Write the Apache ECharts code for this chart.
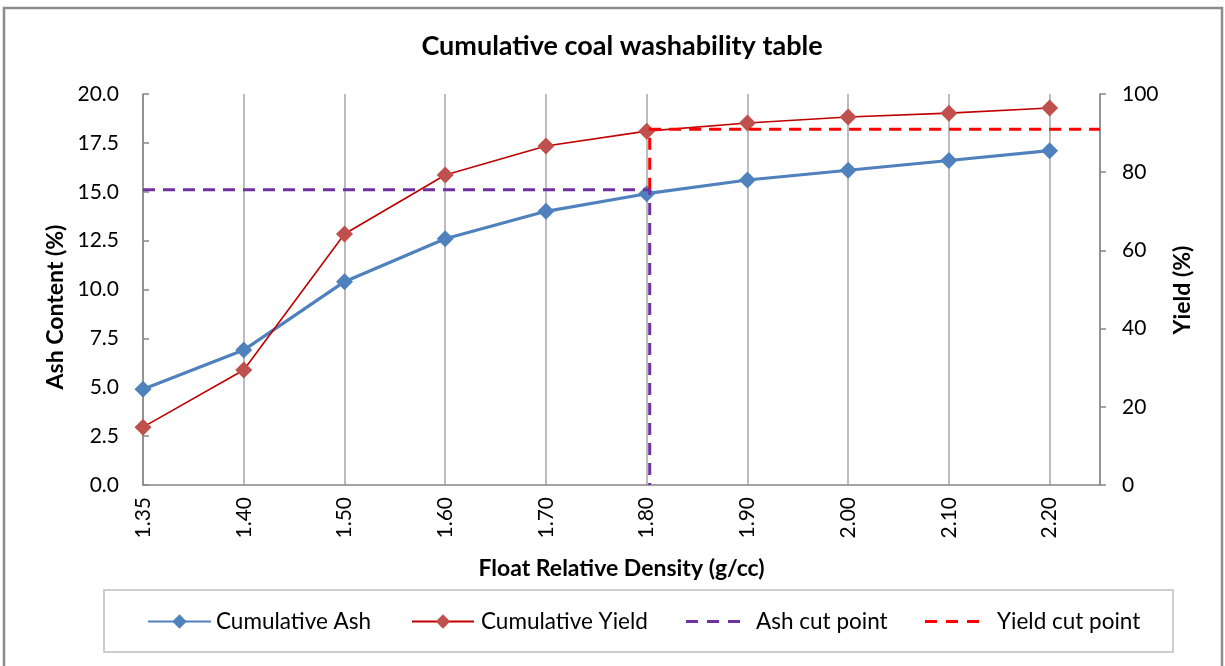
<!DOCTYPE html>
<html>
<head>
<meta charset="utf-8">
<title>Cumulative coal washability table</title>
<script src="https://cdn.jsdelivr.net/npm/echarts@6/dist/echarts.min.js"></script>
<style>
  html, body { margin: 0; padding: 0; background: #ffffff; }
  #chart { width: 1225px; height: 666px; }
</style>
</head>
<body>
<div id="chart"></div>
<script>
// Float relative density fractions (g/cc)
const densities = ['1.35', '1.40', '1.50', '1.60', '1.70', '1.80', '1.90', '2.00', '2.10', '2.20'];
// Cumulative ash of the floats (%)
const cumulativeAsh = [4.9, 6.9, 10.4, 12.6, 14.0, 14.9, 15.6, 16.1, 16.6, 17.1];
// Cumulative yield of the floats (%)
const cumulativeYield = [14.8, 29.4, 64.2, 79.3, 86.7, 90.5, 92.6, 94.1, 95.1, 96.4];
// Cut point: target ash, resulting yield and its position along the density axis
const ashCut = 15.1;
const yieldCut = 91.0;
const cutPosition = 5.03;
// Axis ranges
const ashMax = 20, ashStep = 2.5;
const yieldMax = 100, yieldStep = 20;
const densityEnd = 9.5;

const FONT = 'Lato, "Open Sans", sans-serif';
const AXIS_GREY = '#868686';

const ashPoints = densities.map((d, i) => [i, cumulativeAsh[i]]);
const yieldPoints = densities.map((d, i) => [i, cumulativeYield[i]]);
const ashCutLine = [[0, ashCut], [cutPosition, ashCut], [cutPosition, 0]];
// yield-axis value at the height of the ash cut line
const ashCutOnYield = ashCut * yieldMax / ashMax;
const yieldCutLine = [[cutPosition, ashCutOnYield], [cutPosition, yieldCut], [densityEnd, yieldCut]];

// three short dashes used as the legend key of the cut lines
const DASH_ICON = 'path://M0,0h12v3h-12z M21,0h12v3h-12z M42,0h12v3h-12z';

const legendTop = 605;
function legendItem(name, left, extra) {
  return Object.assign({
    data: [name], left: left, top: legendTop,
    itemWidth: 63, itemHeight: 18, itemGap: 0,
    textStyle: { fontFamily: FONT, fontSize: 22.5, color: '#000' }
  }, extra || {});
}

const chart = echarts.init(document.getElementById('chart'), null, { renderer: 'canvas' });
chart.setOption({
  animation: false,
  backgroundColor: '#ffffff',
  title: {
    text: 'Cumulative coal washability table',
    left: 617, top: 28, textAlign: 'center',
    textStyle: { fontFamily: FONT, fontSize: 27, fontWeight: 'bold', color: '#000' }
  },
  legend: [
    legendItem('Cumulative Ash', 142),
    legendItem('Cumulative Yield', 406, { itemWidth: 62, textStyle: { fontFamily: FONT, fontSize: 22.5, color: '#000', padding: [0, 0, 0, 2] } }),
    legendItem('Ash cut point', 681, {
      icon: DASH_ICON, itemWidth: 54, itemHeight: 3,
      textStyle: { fontFamily: FONT, fontSize: 22.5, color: '#000', padding: [0, 0, 0, 11] }
    }),
    legendItem('Yield cut point', 920, {
      icon: DASH_ICON, itemWidth: 54, itemHeight: 3,
      textStyle: { fontFamily: FONT, fontSize: 22.5, color: '#000', padding: [0, 0, 0, 13] }
    })
  ],
  grid: { left: 143, right: 125, top: 94, bottom: 181, containLabel: false },
  xAxis: {
    type: 'value', min: 0, max: densityEnd, interval: 1,
    name: 'Float Relative Density (g/cc)', nameLocation: 'middle', nameGap: 72,
    nameTextStyle: { fontFamily: FONT, fontSize: 23, fontWeight: 'bold', color: '#000' },
    axisLine: { show: true, lineStyle: { color: AXIS_GREY, width: 1.5 } },
    axisTick: { show: false },
    splitLine: { show: true, lineStyle: { color: '#A6A6A6', width: 1.5 } },
    axisLabel: {
      rotate: 90, margin: 12, fontFamily: FONT, fontSize: 21, color: '#000',
      formatter: v => (Number.isInteger(v) && densities[v] !== undefined) ? densities[v] : ''
    }
  },
  yAxis: [
    {
      type: 'value', position: 'left', min: 0, max: ashMax, interval: ashStep,
      axisLine: { show: true, lineStyle: { color: AXIS_GREY, width: 1.5 } },
      axisTick: { show: true, inside: true, length: 6, lineStyle: { color: AXIS_GREY, width: 1.5 } },
      splitLine: { show: false },
      axisLabel: { margin: 24, fontFamily: FONT, fontSize: 21, color: '#000', formatter: v => v.toFixed(1) }
    },
    {
      type: 'value', position: 'right', min: 0, max: yieldMax, interval: yieldStep,
      axisLine: { show: true, lineStyle: { color: AXIS_GREY, width: 1.5 } },
      axisTick: { show: true, inside: false, length: 6, lineStyle: { color: AXIS_GREY, width: 1.5 } },
      splitLine: { show: false },
      axisLabel: { margin: 22, fontFamily: FONT, fontSize: 21, color: '#000' }
    }
  ],
  series: [
    {
      name: 'Cumulative Ash', type: 'line', yAxisIndex: 0, data: ashPoints,
      symbol: 'diamond', symbolSize: 17, showSymbol: true,
      itemStyle: { color: '#4F81BD' },
      lineStyle: { color: '#4F81BD', width: 3.2 },
      z: 3
    },
    {
      name: 'Cumulative Yield', type: 'line', yAxisIndex: 1, data: yieldPoints,
      symbol: 'diamond', symbolSize: 17, showSymbol: true,
      itemStyle: { color: '#C0504D' },
      lineStyle: { color: '#C00000', width: 1.6 },
      z: 3
    },
    {
      name: 'Yield cut point', type: 'line', yAxisIndex: 1, data: yieldCutLine,
      symbol: 'none', itemStyle: { color: '#FF0000' },
      lineStyle: { color: '#FF0000', width: 3, type: [12, 8] },
      z: 4
    },
    {
      name: 'Ash cut point', type: 'line', yAxisIndex: 0, data: ashCutLine,
      symbol: 'none', itemStyle: { color: '#7030A0' },
      lineStyle: { color: '#7030A0', width: 3, type: [12, 8] },
      z: 5
    }
  ],
  graphic: [
    {
      type: 'rect', silent: true, z: -1,
      shape: { x: 4, y: 8, width: 1218, height: 700 },
      style: { fill: 'none', stroke: '#8C8C8C', lineWidth: 2.5 }
    },
    {
      type: 'rect', silent: true,
      shape: { x: 104, y: 590, width: 1069, height: 62 },
      style: { fill: 'none', stroke: '#BFBFBF', lineWidth: 1.5 }
    },
    {
      type: 'text', silent: true, x: 56, y: 307, rotation: Math.PI / 2,
      style: {
        text: 'Ash Content (%)', align: 'center', verticalAlign: 'middle',
        font: 'bold 23px ' + FONT, fill: '#000'
      }
    },
    {
      type: 'text', silent: true, x: 1183, y: 290, rotation: Math.PI / 2,
      style: {
        text: 'Yield (%)', align: 'center', verticalAlign: 'middle',
        font: 'bold 23px ' + FONT, fill: '#000'
      }
    }
  ]
});
</script>
</body>
</html>
